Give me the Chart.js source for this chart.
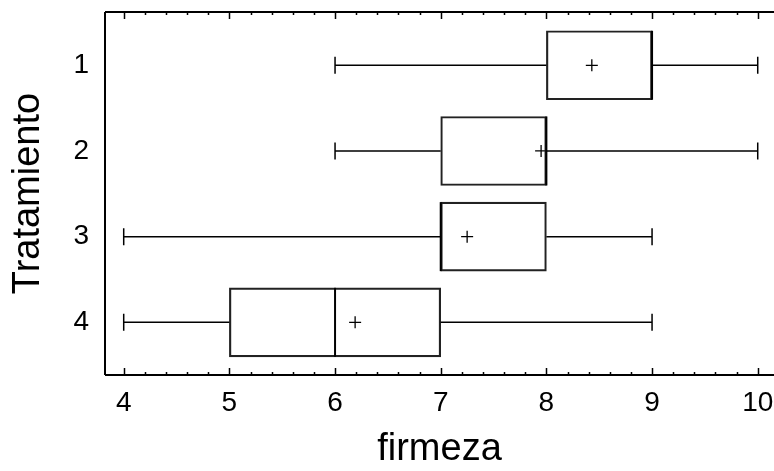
<!DOCTYPE html>
<html>
<head>
<meta charset="utf-8">
<script src="https://cdn.jsdelivr.net/npm/chart.js@4"></script>
<style>
  html, body { margin: 0; padding: 0; background: #fff; }
  #box { display: block; }
</style>
</head>
<body>
<canvas id="box" width="774" height="471"></canvas>
<script>
// Caja y bigotes de firmeza por tratamiento
const tratamientos = [1, 2, 3, 4];
const minimos = [6, 6, 4, 4];
const cuartil1 = [8, 7, 7, 5];
const medianas = [9, 8, 7, 6];
const cuartil3 = [9, 8, 8, 7];
const maximos = [10, 10, 9, 9];
const medias = [8.43, 7.95, 7.25, 6.19];
const xTicks = [4, 5, 6, 7, 8, 9, 10];

const FONT = 'Liberation Sans, Arial, sans-serif';

// bigotes, medianas y marco con marcas hacia dentro
const boxExtras = {
    id: 'boxExtras',
    afterDatasetsDraw(chart) {
        const c = chart.ctx;
        const xs = chart.scales.x, ys = chart.scales.y;
        const a = chart.chartArea;
        c.save();
        c.strokeStyle = '#000';
        c.lineWidth = 1.5;
        tratamientos.forEach((t, i) => {
            const y = ys.getPixelForValue(t);
            const xMin = xs.getPixelForValue(minimos[i]);
            const xQ1 = xs.getPixelForValue(cuartil1[i]);
            const xQ3 = xs.getPixelForValue(cuartil3[i]);
            const xMax = xs.getPixelForValue(maximos[i]);
            c.beginPath();
            c.moveTo(xMin, y); c.lineTo(xQ1, y);
            c.moveTo(xQ3, y); c.lineTo(xMax, y);
            c.moveTo(xMin, y - 8.5); c.lineTo(xMin, y + 8.5);
            c.moveTo(xMax, y - 8.5); c.lineTo(xMax, y + 8.5);
            c.stroke();
            const xMed = xs.getPixelForValue(medianas[i]);
            c.lineWidth = 2;
            c.beginPath();
            c.moveTo(xMed, y - 34.5); c.lineTo(xMed, y + 34.5);
            c.stroke();
            c.lineWidth = 1.5;
        });

        // marco: izquierda, arriba, abajo
        c.lineWidth = 2;
        c.beginPath();
        c.moveTo(a.left, a.top); c.lineTo(a.right, a.top);
        c.moveTo(a.left, a.top); c.lineTo(a.left, a.bottom);
        c.moveTo(a.left, a.bottom); c.lineTo(a.right, a.bottom);
        c.stroke();

        // marcas mayores y menores en los ejes superior e inferior
        c.lineWidth = 1.5;
        c.beginPath();
        for (let k = 0; k <= 30; k++) {
            const v = 4 + k * 0.2;
            const x = Math.round(xs.getPixelForValue(v)) + 0.5;
            const len = k % 5 === 0 ? 7 : 3;
            c.moveTo(x, a.top); c.lineTo(x, a.top + len);
            c.moveTo(x, a.bottom); c.lineTo(x, a.bottom - len);
        }
        c.stroke();
        c.restore();
    }
};

new Chart(document.getElementById('box').getContext('2d'), {
    type: 'bar',
    data: {
        datasets: [{
            type: 'bar',
            indexAxis: 'y',
            data: tratamientos.map((t, i) => ({ x: [cuartil1[i], cuartil3[i]], y: t })),
            backgroundColor: 'rgba(255,255,255,0)',
            borderColor: '#222',
            borderWidth: 1.5,
            borderSkipped: false,
            barThickness: 69
        }, {
            type: 'scatter',
            data: tratamientos.map((t, i) => ({ x: medias[i], y: t })),
            pointStyle: 'cross',
            radius: 6,
            borderColor: '#000',
            borderWidth: 1.3,
            backgroundColor: '#000'
        }]
    },
    options: {
        responsive: false,
        animation: false,
        layout: { autoPadding: false, padding: { top: 12, right: 0, left: 0, bottom: 0 } },
        plugins: { legend: { display: false }, tooltip: { enabled: false } },
        scales: {
            x: {
                type: 'linear',
                offset: false,
                min: 3.823,
                max: 10.154,
                afterBuildTicks: s => { s.ticks = xTicks.map(v => ({ value: v })); },
                afterFit: s => { s.height = 96; s.paddingLeft = 0; s.paddingRight = 0; },
                grid: { display: false, drawTicks: false, offset: false },
                border: { display: false },
                ticks: { color: '#000', padding: 11, font: { family: FONT, size: 28 }, maxRotation: 0, autoSkip: false },
                title: { display: true, text: 'firmeza', color: '#000', padding: { top: 0, bottom: 2 },
                         font: { family: FONT, size: 38, lineHeight: 1 } }
            },
            y: {
                type: 'linear',
                offset: false,
                reverse: true,
                min: 0.378,
                max: 4.615,
                afterBuildTicks: s => { s.ticks = tratamientos.map(v => ({ value: v })); },
                afterFit: s => { s.width = 105; s.paddingTop = 0; s.paddingBottom = 0; },
                grid: { display: false, drawTicks: false, offset: false },
                border: { display: false },
                ticks: { color: '#000', padding: 16, font: { family: FONT, size: 28 }, autoSkip: false },
                title: { display: true, text: 'Tratamiento', color: '#000', padding: { top: 10, bottom: 0 },
                         font: { family: FONT, size: 38, lineHeight: 1 } }
            }
        }
    },
    plugins: [boxExtras]
});
</script>
</body>
</html>
